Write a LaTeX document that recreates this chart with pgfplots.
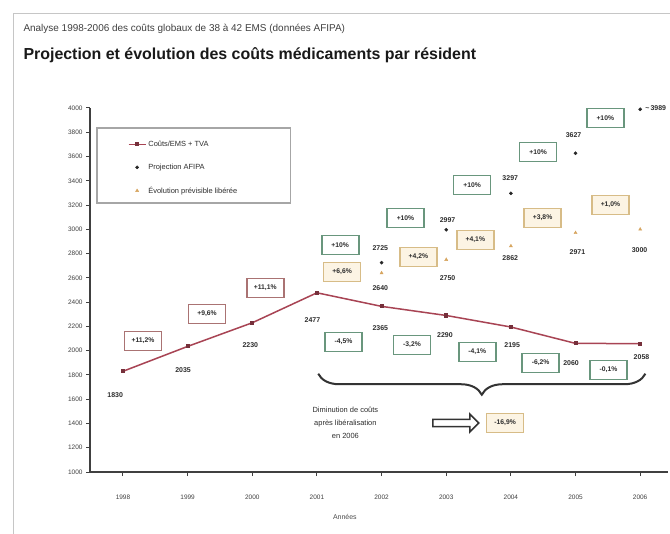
\documentclass[border=0pt]{standalone}
\usepackage{fontspec}
\setmainfont{Liberation Sans}
\usepackage{pgfplots}
\pgfplotsset{compat=1.18}
\usetikzlibrary{decorations.pathreplacing,shapes.arrows}
\definecolor{redline}{RGB}{168,68,84}
\definecolor{redbox}{RGB}{170,115,115}
\definecolor{greenbox}{RGB}{105,150,125}
\definecolor{tanmark}{RGB}{215,165,95}
\definecolor{tanbox}{RGB}{215,188,135}
\definecolor{tanfill}{RGB}{252,244,228}
\definecolor{txt}{RGB}{45,45,45}
\begin{document}
\begin{tikzpicture}[
  lab/.style={font=\fontsize{7}{8}\selectfont\bfseries, text=txt, inner sep=1bp},
  pbox/.style={line width=1.6bp, fill=white, font=\fontsize{6.8}{7}\selectfont\bfseries, text=txt, minimum width=37bp, minimum height=19bp, inner sep=1bp},
  pred/.style={pbox, draw=redbox},
  pgreen/.style={pbox, draw=greenbox},
  ptan/.style={pbox, draw=tanbox, fill=tanfill}]
\useasboundingbox (0bp,0bp) rectangle (670bp,534bp);
\fill[white] (0bp,0bp) rectangle (670bp,534bp);
\draw[gray!45, line width=1bp] (13bp,0bp) -- (13bp,520bp) -- (670bp,520bp);
\node[anchor=base west, font=\fontsize{10}{12}\selectfont, text=black!75] at (20bp,502bp) {Analyse 1998-2006 des coûts globaux de 38 à 42 EMS (données AFIPA)};
\node[anchor=base west, font=\fontsize{16}{18}\selectfont\bfseries, text=black!90] at (20bp,474bp) {Projection et évolution des coûts médicaments par résident};
\begin{axis}[at={(90bp,62bp)}, anchor=south west, scale only axis, width=578bp, height=364bp,
  xmin=1997.49, xmax=2006.43, ymin=1000, ymax=4000,
  axis x line=bottom, axis y line=left,
  axis line style={-, line width=2.2bp, black!75},
  xtick={1998,...,2006}, ytick={1000,1200,...,4000},
  /pgf/number format/assume math mode=true,
  /pgf/number format/1000 sep={},
  tick label style={font=\fontsize{6.5}{7}\selectfont, text=black!75},
  xticklabel style={yshift=-15bp},
  tick style={black!75, line width=1bp}, major tick length=4bp, tick align=outside,
  xlabel={Années},
  xlabel style={at={(axis description cs:0.441,0)}, anchor=north, yshift=-39bp, font=\fontsize{7}{8}\selectfont, text=black!70},
  clip=false,
  legend cell align=left,
  legend style={at={(0.06,0.921)}, anchor=north west, draw=none, fill=none, font=\fontsize{7.5}{8}\selectfont, text=txt, row sep=12bp}]
\addplot[redline, line width=1.5bp, mark=square*, mark size=1.3bp, mark options={fill=redline!70!black, draw=redline!70!black}] coordinates {(1998,1830)(1999,2035)(2000,2230)(2001,2477)(2002,2365)(2003,2290)(2004,2195)(2005,2060)(2006,2058)};
\addlegendentry{Coûts/EMS + TVA}
\addplot[only marks, mark=*, mark size=1.6bp, black!85] coordinates {(2002,2725)(2003,2997)(2004,3297)(2005,3627)(2006,3989)};
\addlegendentry{Projection AFIPA}
\addplot[only marks, mark=triangle*, mark size=1.8bp, tanmark] coordinates {(2002,2640)(2003,2750)(2004,2862)(2005,2971)(2006,3000)};
\addlegendentry{Évolution prévisible libérée}

% legend frame
\draw[gray!70, line width=1.8bp] (axis cs:1997.60,3835) rectangle (axis cs:2000.59,3217);

% red series labels
\node[lab] at (axis cs:1997.88,1635) {1830};
\node[lab] at (axis cs:1998.93,1841) {2035};
\node[lab] at (axis cs:1999.97,2047) {2230};
\node[lab] at (axis cs:2000.93,2253) {2477};
\node[lab] at (axis cs:2001.98,2187) {2365};
\node[lab] at (axis cs:2002.98,2129) {2290};
\node[lab] at (axis cs:2004.02,2047) {2195};
\node[lab] at (axis cs:2004.93,1898) {2060};
\node[lab] at (axis cs:2006.02,1948) {2058};
% red boxes
\node[pred] at (axis cs:1998.31,2080) {+11,2\%};
\node[pred] at (axis cs:1999.30,2302) {+9,6\%};
\node[pred] at (axis cs:2000.20,2517) {+11,1\%};
% green lower boxes
\node[pgreen] at (axis cs:2001.41,2071) {-4,5\%};
\node[pgreen] at (axis cs:2002.47,2047) {-3,2\%};
\node[pgreen] at (axis cs:2003.48,1989) {-4,1\%};
\node[pgreen] at (axis cs:2004.46,1898) {-6,2\%};
\node[pgreen] at (axis cs:2005.51,1841) {-0,1\%};
% green upper boxes
\node[pgreen] at (axis cs:2001.36,2871) {+10\%};
\node[pgreen] at (axis cs:2002.37,3093) {+10\%};
\node[pgreen] at (axis cs:2003.40,3365) {+10\%};
\node[pgreen] at (axis cs:2004.42,3637) {+10\%};
\node[pgreen] at (axis cs:2005.46,3918) {+10\%};
% projection labels
\node[lab] at (axis cs:2001.98,2846) {2725};
\node[lab] at (axis cs:2003.02,3077) {2997};
\node[lab] at (axis cs:2003.99,3423) {3297};
\node[lab] at (axis cs:2004.97,3778) {3627};
\node[lab, anchor=west] at (axis cs:2006.06,4000) {\textasciitilde\,3989};
% tan labels
\node[lab] at (axis cs:2001.98,2517) {2640};
\node[lab] at (axis cs:2003.02,2599) {2750};
\node[lab] at (axis cs:2003.99,2764) {2862};
\node[lab] at (axis cs:2005.03,2813) {2971};
\node[lab] at (axis cs:2005.99,2830) {3000};
% tan boxes
\node[ptan] at (axis cs:2001.39,2648) {+6,6\%};
\node[ptan] at (axis cs:2002.57,2772) {+4,2\%};
\node[ptan] at (axis cs:2003.45,2912) {+4,1\%};
\node[ptan] at (axis cs:2004.49,3093) {+3,8\%};
\node[ptan] at (axis cs:2005.54,3200) {+1,0\%};
% brace and annotation
\draw[decorate, decoration={brace, amplitude=21bp, mirror}, line width=2bp, black!80] (axis cs:2001.02,1810) -- (axis cs:2006.08,1810);
\node[align=center, font=\fontsize{7.5}{13}\selectfont, text=txt] at (axis cs:2001.44,1404) {Diminution de coûts\\après libéralisation\\en 2006};
\node[single arrow, draw=black!80, line width=1.5bp, fill=white, minimum height=46bp, minimum width=18bp, single arrow head extend=5bp, inner sep=2.5bp] at (axis cs:2003.12,1404) {};
\node[ptan] at (axis cs:2003.91,1404) {-16,9\%};
\end{axis}
\end{tikzpicture}
\end{document}
